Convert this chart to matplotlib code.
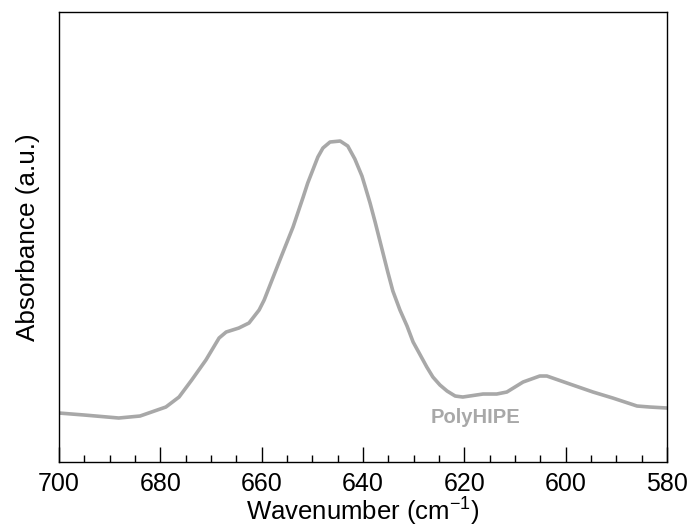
import matplotlib
matplotlib.use("Agg")
import matplotlib.pyplot as plt
from matplotlib.ticker import MultipleLocator

plt.rcParams['font.family'] = ['Liberation Sans', 'DejaVu Sans']
plt.rcParams['mathtext.fontset'] = 'custom'
plt.rcParams['mathtext.rm'] = 'Liberation Sans'

wavenumber = [700.0, 695.0, 688.2, 684.0, 678.9, 676.3, 673.8, 671.0, 668.4, 667.0,
              664.5, 662.5, 660.5, 659.5, 656.4, 653.8, 652.8, 651.8, 650.9, 649.9,
              648.9, 647.9, 646.5, 644.5, 643.0, 641.6, 640.2, 639.6, 638.6, 637.6,
              636.6, 635.1, 634.1, 632.7, 631.3, 630.1, 628.8, 627.4, 626.2,
              624.8, 623.4, 621.8, 620.3, 616.3, 613.6, 611.6, 608.4, 605.1, 603.7,
              598.6, 594.6, 590.7, 585.9, 583.4, 580.0]
absorbance = [0.49, 0.47, 0.44, 0.46, 0.55, 0.65, 0.82, 1.02, 1.24, 1.30,
              1.34, 1.39, 1.52, 1.62, 2.02, 2.35, 2.50, 2.65, 2.79, 2.92,
              3.05, 3.14, 3.20, 3.21, 3.16, 3.03, 2.86, 2.76, 2.59, 2.40,
              2.20, 1.90, 1.71, 1.52, 1.36, 1.20, 1.08, 0.95, 0.85,
              0.77, 0.71, 0.66, 0.65, 0.68, 0.68, 0.70, 0.80, 0.86, 0.86,
              0.77, 0.70, 0.64, 0.56, 0.55, 0.54]
series_label = "PolyHIPE"

fig = plt.figure(figsize=(6.93, 5.27), dpi=100)
ax = fig.add_axes([0.0851, 0.1233, 0.8773, 0.8539])
ax.plot(wavenumber, absorbance, color='#a8a8a8', lw=2.6,
        solid_joinstyle='round', solid_capstyle='round')
ax.set_xlim(700, 580)
ax.set_ylim(0, 4.5)
ax.xaxis.set_major_locator(MultipleLocator(20))
ax.xaxis.set_minor_locator(MultipleLocator(5))
ax.tick_params(axis='x', which='major', direction='in', length=11, width=1.0,
               labelsize=18, pad=7)
ax.tick_params(axis='x', which='minor', direction='in', length=5.3, width=1.0)
ax.set_yticks([])
for s in ax.spines.values():
    s.set_linewidth(1.0)
ax.set_xlabel("Wavenumber (cm$^{\\mathregular{-1}}$)", fontsize=18.5, labelpad=-1)
ax.set_ylabel("Absorbance (a.u.)", fontsize=18.8, labelpad=14)
ax.text(617.7, 0.45, series_label, color='#a8a8a8', fontsize=14.5, fontweight='bold',
        ha='center', va='center')
fig.savefig("out.png", dpi=100)
